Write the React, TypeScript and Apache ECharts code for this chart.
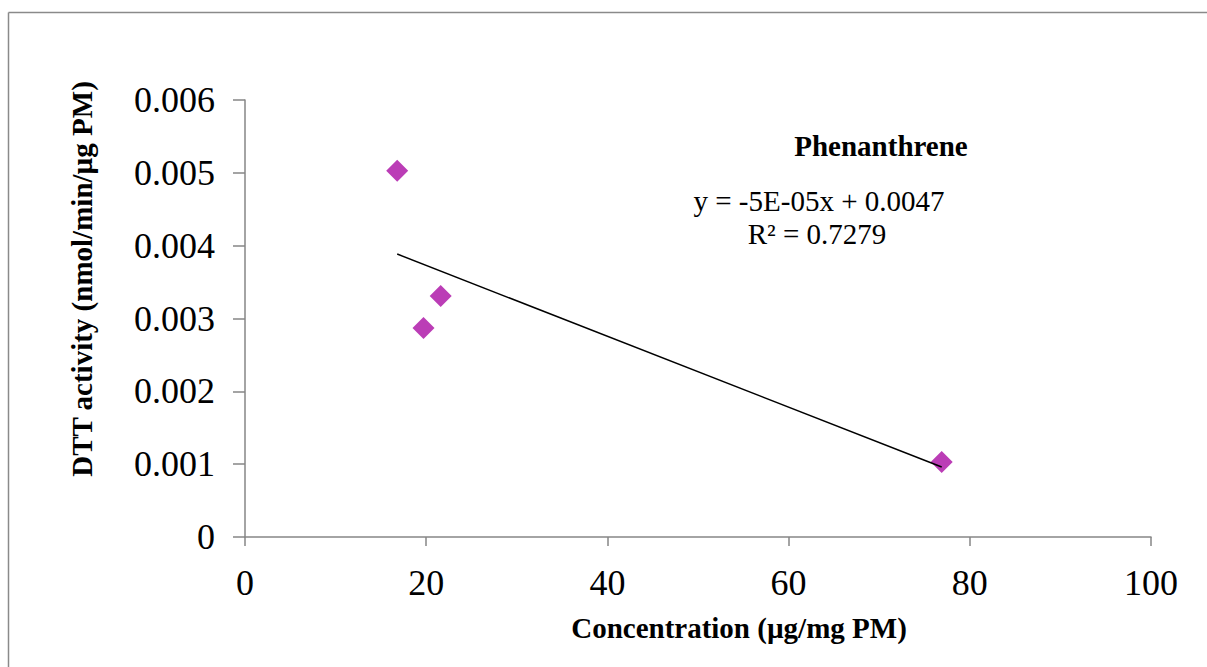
import React, { useEffect, useRef } from "react";
import * as echarts from "echarts";

const xValues = [16.8, 19.7, 21.6, 76.9];
const yValues = [0.00503, 0.00287, 0.00331, 0.00103];
const titleText = "Phenanthrene";
const equationText = "y = -5E-05x + 0.0047";
const r2Text = "R² = 0.7279";
const xAxisTitle = "Concentration (µg/mg PM)";
const yAxisTitle = "DTT activity (nmol/min/µg PM)";

function regression(xs: number[], ys: number[]) {
  const n = xs.length;
  const mx = xs.reduce((a, b) => a + b, 0) / n;
  const my = ys.reduce((a, b) => a + b, 0) / n;
  let sxy = 0, sxx = 0;
  for (let i = 0; i < n; i++) {
    sxy += (xs[i] - mx) * (ys[i] - my);
    sxx += (xs[i] - mx) * (xs[i] - mx);
  }
  const slope = sxy / sxx;
  return { slope, intercept: my - slope * mx };
}

export default function App() {
  const ref = useRef<HTMLDivElement>(null);
  useEffect(() => {
    const chart = echarts.init(ref.current!, null, { renderer: "svg" });
    const { slope, intercept } = regression(xValues, yValues);
    const xmin = Math.min(...xValues);
    const xmax = Math.max(...xValues);
    const serif = "'Liberation Serif', 'Times New Roman', serif";
    const borderStyle = { stroke: "#8a8a8a", lineWidth: 1.5 };
    chart.setOption({
      animation: false,
      backgroundColor: "#fff",
      textStyle: { fontFamily: serif },
      grid: { left: 245, right: 56, top: 100, bottom: 130, containLabel: false },
      graphic: [
        { type: "line", shape: { x1: 8.5, y1: 12.5, x2: 1207, y2: 12.5 }, style: borderStyle, silent: true },
        { type: "line", shape: { x1: 8.5, y1: 12.5, x2: 8.5, y2: 667 }, style: borderStyle, silent: true },
        {
          type: "text",
          x: 881, y: 146,
          style: { text: titleText, font: `bold 29px ${serif}`, fill: "#000", align: "center", verticalAlign: "middle" },
        },
        {
          type: "text",
          x: 819, y: 201,
          style: { text: equationText, font: `29px ${serif}`, fill: "#000", align: "center", verticalAlign: "middle" },
        },
        {
          type: "text",
          x: 817, y: 234,
          style: { text: r2Text, font: `29px ${serif}`, fill: "#000", align: "center", verticalAlign: "middle" },
        },
        {
          type: "text",
          x: 739, y: 628,
          style: { text: xAxisTitle, font: `bold 29px ${serif}`, fill: "#000", align: "center", verticalAlign: "middle" },
        },
        {
          type: "text",
          x: 82, y: 279,
          rotation: Math.PI / 2,
          style: { text: yAxisTitle, font: `bold 29px ${serif}`, fill: "#000", align: "center", verticalAlign: "middle" },
        },
      ],
      xAxis: {
        type: "value",
        min: 0, max: 100, interval: 20,
        axisLine: { show: true, onZero: false, lineStyle: { color: "#868686", width: 1.5 } },
        axisTick: { show: true, length: 9, lineStyle: { color: "#868686", width: 1.5 } },
        axisLabel: { fontFamily: serif, fontSize: 36, color: "#000", margin: 28 },
        splitLine: { show: false },
      },
      yAxis: {
        type: "value",
        min: 0, max: 0.006, interval: 0.001,
        axisLine: { show: true, lineStyle: { color: "#868686", width: 1.5 } },
        axisTick: { show: true, length: 12, lineStyle: { color: "#868686", width: 1.5 } },
        axisLabel: {
          fontFamily: serif, fontSize: 36, color: "#000", margin: 30,
          formatter: (v: number) => (v === 0 ? "0" : v.toFixed(3)),
        },
        splitLine: { show: false },
      },
      series: [
        {
          type: "line",
          data: [
            [xmin, slope * xmin + intercept],
            [xmax, slope * xmax + intercept],
          ],
          symbol: "none",
          lineStyle: { color: "#000", width: 1.5 },
          z: 3,
        },
        {
          type: "scatter",
          data: xValues.map((x, i) => [x, yValues[i]]),
          symbol: "diamond",
          symbolSize: [22, 22],
          itemStyle: { color: "#BB3DB6", opacity: 1 },
          z: 2,
        },
      ],
    });
    return () => chart.dispose();
  }, []);
  return (
    <div
      ref={ref}
      style={{ position: "absolute", left: 0, top: 0, width: 1207, height: 667 }}
    />
  );
}
